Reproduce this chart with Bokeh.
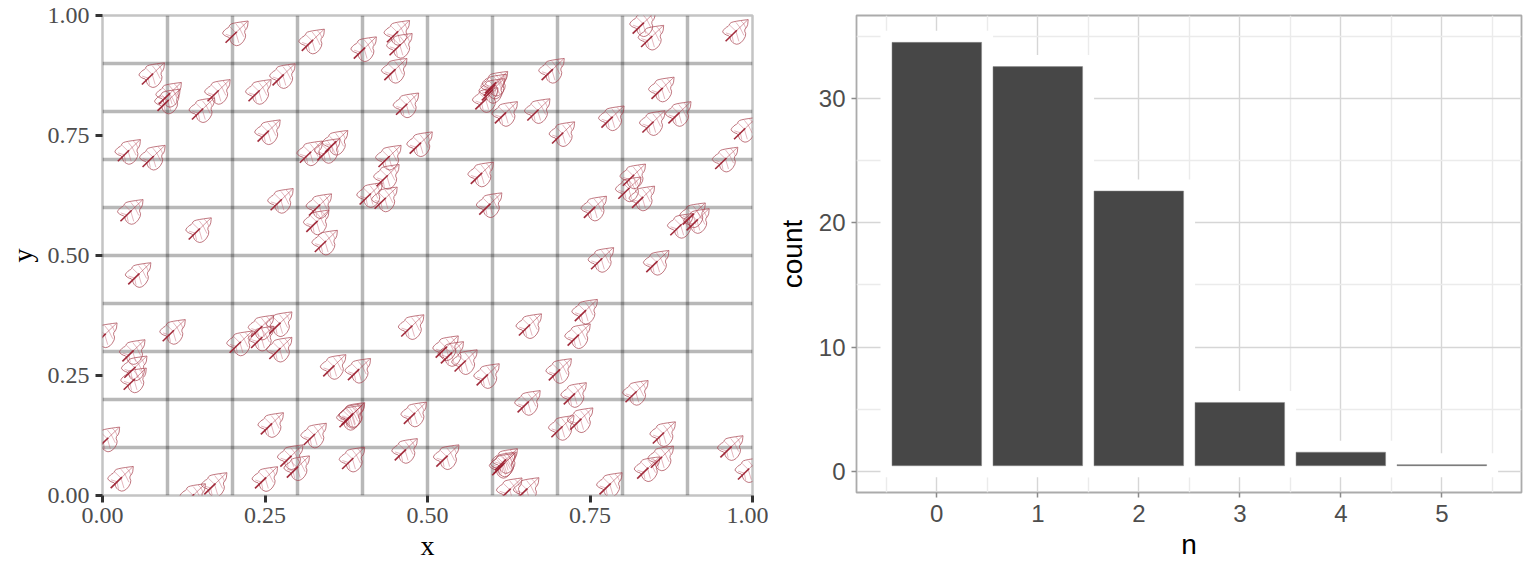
import numpy as np
from bokeh.embed import file_html
from bokeh.resources import INLINE
from bokeh.plotting import figure
from bokeh.layouts import row, column
from bokeh.models import FixedTicker, Range1d, ColumnDataSource

# leaf centres
leaf_x = [.2067,.324,.404,.455,.459,.451,.078,.104,.102,.179,.155,.242,.279,.490,.469,.256,.360,.348,.321,.041,.079,
          .442,.439,.413,.436,.276,.335,.331,.344,.045,.150,
          .833,.846,.976,.693,.862,.606,.604,.601,.591,.621,.671,.709,.785,.848,.888,.989,.960,.584,.597,.818,.811,.832,
          .758,.910,.916,.891,
          .057,.005,.110,.048,.051,.050,.477,.213,.274,.246,.246,.274,.357,.395,.386,.385,.382,.481,.261,.327,.291,.301,
          .386,.467,.252,.030,.009,.174,.141,
          .769,.854,.744,.733,.658,.530,.538,.559,.593,.704,.727,.656,.822,.737,.708,.864,.861,.840,.968,.995,.531,.621,
          .619,.617,.628,.654,.782]
leaf_y = [.966,.949,.933,.967,.940,.888,.879,.838,.824,.844,.806,.844,.877,.735,.816,.760,.738,.721,.716,.719,.707,
          .707,.667,.629,.620,.617,.606,.572,.530,.594,.556,
          .985,.957,.969,.888,.849,.861,.855,.846,.827,.798,.804,.756,.789,.779,.798,.765,.703,.672,.608,.668,.641,.622,
          .601,.587,.575,.565,
          .4625,.337,.344,.302,.268,.243,.354,.320,.360,.353,.330,.307,.271,.263,.171,.169,.165,.172,.150,.128,.083,.060,
          .078,.096,.0375,.038,.120,.025,.002,
          .494,.488,.386,.335,.356,.310,.298,.281,.252,.2625,.2125,.196,.217,.160,.144,.131,.0805,.058,.102,.056,.083,.075,
          .068,.065,.014,.0146,.025]

# bars
n_values = [0, 1, 2, 3, 4, 5]
bar_top = [34.5, 32.55, 22.55, 5.55, 1.55, 0.55]
bar_bottom = [0.46, 0.46, 0.46, 0.46, 0.46, 0.46]

x_tick_labels = {0: "0.00", 0.25: "0.25", 0.5: "0.50", 0.75: "0.75", 1: "1.00"}

# leaf shape, in screen pixels about the leaf centre
outline = np.array([(11.3,10.8),(5.6,10.1),(-2.7,8.8),(-6.7,7.5),(-8.4,4.1),(-10.7,3.1),(-13.7,.1),(-14.4,-1.9),
                    (-11.1,-4.5),(-7.4,-5.5),(-6.1,-10.2),(-3.4,-12.9),(.6,-14.2),(5.6,-11.2),(9.3,-4.5),(7.3,.5),
                    (10.6,4.1),(11.3,10.8)])
def chaikin(a, k=1):
    for _ in range(k):
        q = .75*a[:-1] + .25*a[1:]
        r = .25*a[:-1] + .75*a[1:]
        m = np.empty((2*len(q), 2)); m[0::2] = q; m[1::2] = r
        a = np.vstack([a[:1], m, a[-1:]])
    return a
outline = chaikin(outline)
veins = [[(-5,-4.5),(-11,-2.5)],[(-5,-4.5),(-3.5,-11.5)],[(-1,-.8),(-7,5)],[(-1,-.8),(2,-11)],
         [(3,3),(-1,8)],[(3,3),(7,-5)],[(7,6.5),(4,9.5)],[(7,6.5),(9,2)]]
stem_base = [(-11.3,-10.9),(0,.1)]
stem_tip = [(0,.1),(10.5,10.2)]

PW, PH = 650, 480
def place(shape):
    s = np.asarray(shape, float)
    return ([list(x + s[:,0]/PW) for x in leaf_x], [list(y + s[:,1]/PH) for y in leaf_y])

SERIF = "Liberation Serif"
SANS = "Liberation Sans"

p1 = figure(width=768, height=576, output_backend="svg", toolbar_location=None,
            x_range=Range1d(0, 1), y_range=Range1d(0, 1),
            min_border_left=102, min_border_right=16, min_border_top=15, min_border_bottom=81,
            x_axis_label="x", y_axis_label="y")
p1.xaxis.ticker = FixedTicker(ticks=list(x_tick_labels))
p1.yaxis.ticker = FixedTicker(ticks=list(x_tick_labels))
for ax in (p1.xaxis[0], p1.yaxis[0]):
    ax.major_label_overrides = x_tick_labels
    ax.axis_line_color = None
    ax.major_tick_line_color = "#333333"
    ax.major_tick_line_width = 3
    ax.major_tick_out = 7
    ax.major_tick_in = 0
    ax.minor_tick_line_color = None
    ax.major_label_text_font = SERIF
    ax.major_label_text_font_size = "24px"
    ax.major_label_text_color = "#4d4d4d"
    ax.axis_label_text_font = SERIF
    ax.axis_label_text_font_size = "28px"
    ax.axis_label_text_font_style = "normal"
    ax.axis_label_text_color = "black"
p1.xaxis.major_label_standoff = 5
p1.yaxis.major_label_standoff = 6
p1.xaxis.axis_label_standoff = 4
p1.yaxis.axis_label_standoff = 7
grid_ticks = [.1,.2,.3,.4,.5,.6,.7,.8,.9]
for g in (p1.xgrid[0], p1.ygrid[0]):
    g.ticker = FixedTicker(ticks=grid_ticks)
    g.grid_line_color = "black"
    g.grid_line_alpha = 0.28
    g.grid_line_width = 3.5
p1.outline_line_color = "#c4c4c4"
p1.outline_line_width = 2.5

xs, ys = [], []
for v in veins:
    a, b = place(v); xs += a; ys += b
p1.multi_line(xs, ys, line_color="#c2566a", line_alpha=.42, line_width=1)
a, b = place(outline)
p1.multi_line(a, b, line_color="#a8434f", line_alpha=.72, line_width=1)
a, b = place(stem_tip)
p1.multi_line(a, b, line_color="#a8293a", line_alpha=.55, line_width=.9)
a, b = place(stem_base)
p1.multi_line(a, b, line_color="#9c2030", line_alpha=.95, line_width=1.6)

p2 = figure(width=768, height=576, output_backend="svg", toolbar_location=None,
            x_range=Range1d(-.795, 5.789), y_range=Range1d(-1.69, 36.66),
            min_border_left=88, min_border_right=15, min_border_top=15, min_border_bottom=84,
            x_axis_label="n", y_axis_label="count")
p2.xaxis.ticker = FixedTicker(ticks=n_values)
p2.yaxis.ticker = FixedTicker(ticks=[0, 10, 20, 30])
for ax in (p2.xaxis[0], p2.yaxis[0]):
    ax.axis_line_color = None
    ax.major_tick_line_color = "#8a8a8a"
    ax.major_tick_line_width = 1.5
    ax.major_tick_out = 5
    ax.major_tick_in = 0
    ax.minor_tick_line_color = None
    ax.major_label_text_font = SANS
    ax.major_label_text_font_size = "24px"
    ax.major_label_text_color = "#4d4d4d"
    ax.axis_label_text_font = SANS
    ax.axis_label_text_font_size = "28px"
    ax.axis_label_text_font_style = "normal"
    ax.axis_label_text_color = "black"
p2.xaxis.major_label_standoff = 7
p2.yaxis.major_label_standoff = 6
p2.xaxis.axis_label_standoff = 4
p2.yaxis.axis_label_standoff = 8
p2.xgrid[0].ticker = FixedTicker(ticks=n_values, minor_ticks=[-.5,.5,1.5,2.5,3.5,4.5,5.5])
p2.ygrid[0].ticker = FixedTicker(ticks=[0, 10, 20, 30], minor_ticks=[5, 15, 25, 35])
for g in (p2.xgrid[0], p2.ygrid[0]):
    g.grid_line_color = "#d6d6d6"
    g.grid_line_width = 1.4
    g.minor_grid_line_color = "#ebebeb"
    g.minor_grid_line_width = 1.4
p2.outline_line_color = "#ababab"
p2.outline_line_width = 1.8

src = ColumnDataSource(dict(x=n_values, top=bar_top, bottom=bar_bottom))
p2.vbar(x="x", top="top", bottom="bottom", width=.887, source=src, fill_color="white", line_color="white", line_width=23, line_join="miter")
p2.vbar(x="x", top="top", bottom="bottom", width=.887, source=src, fill_color="#474747", line_color="#8a8a8a", line_width=.5)

open("out.html", "w").write(file_html(row(column(p1), column(p2)), INLINE))
